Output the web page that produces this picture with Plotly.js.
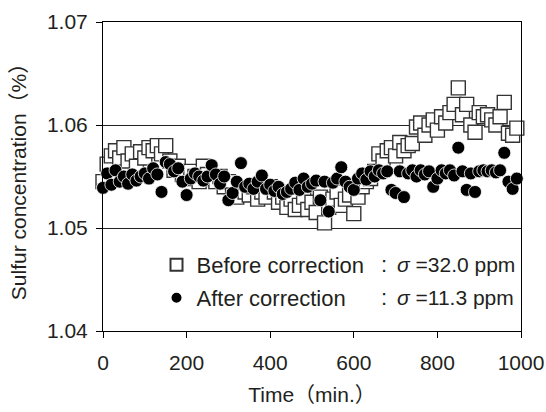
<!DOCTYPE html>
<html>
<head>
<meta charset="utf-8">
<script src="https://cdn.plot.ly/plotly-3.0.1.min.js"></script>
<style>html,body{margin:0;padding:0;background:#fff;}#chart{width:546px;height:412px;}</style>
</head>
<body>
<div id="chart"></div>
<script>
const time = [0,10,20,30,40,50,60,70,80,90,100,110,120,130,140,150,160,170,180,190,200,210,220,230,240,250,260,270,280,290,300,310,320,330,340,350,360,370,380,390,400,410,420,430,440,450,460,470,480,490,500,510,520,530,540,550,560,570,580,590,600,610,620,630,640,650,660,670,680,690,700,710,720,730,740,750,760,770,780,790,800,810,820,830,840,850,860,870,880,890,900,910,920,930,940,950,960,970,980,990];

const beforeCorrection = [1.0545,1.0562,1.0570,1.0575,1.0568,1.0578,1.0565,1.0572,1.0560,1.0574,1.0568,1.0578,1.0575,1.0580,1.0572,1.0580,1.0565,1.0556,1.0560,1.0552,1.0548,1.0555,1.0550,1.0545,1.0560,1.0552,1.0548,1.0545,1.0550,1.0540,1.0545,1.0532,1.0530,1.0538,1.0535,1.0532,1.0540,1.0528,1.0535,1.0530,1.0540,1.0535,1.0525,1.0530,1.0520,1.0528,1.0518,1.0522,1.0530,1.0518,1.0525,1.0515,1.0530,1.0505,1.0520,1.0528,1.0535,1.0522,1.0528,1.0532,1.0514,1.0530,1.0540,1.0545,1.0548,1.0555,1.0572,1.0565,1.0575,1.0578,1.0570,1.0583,1.0575,1.0580,1.0582,1.0598,1.0602,1.0590,1.0600,1.0605,1.0595,1.0608,1.0602,1.0612,1.0620,1.0636,1.0610,1.0620,1.0600,1.0593,1.0612,1.0608,1.0610,1.0605,1.0600,1.0608,1.0622,1.0592,1.0590,1.0597];

const afterCorrection = [1.0539,1.0553,1.0542,1.0556,1.0545,1.0550,1.0543,1.0552,1.0546,1.0550,1.0553,1.0548,1.0558,1.0552,1.0535,1.0564,1.0562,1.0555,1.0558,1.0545,1.0532,1.0548,1.0553,1.0550,1.0546,1.0550,1.0561,1.0552,1.0543,1.0550,1.0527,1.0534,1.0545,1.0563,1.0540,1.0543,1.0538,1.0545,1.0551,1.0538,1.0542,1.0536,1.0540,1.0533,1.0535,1.0538,1.0544,1.0537,1.0548,1.0540,1.0543,1.0546,1.0527,1.0545,1.0516,1.0544,1.0548,1.0559,1.0545,1.0540,1.0537,1.0548,1.0553,1.0547,1.0555,1.0550,1.0556,1.0553,1.0555,1.0537,1.0534,1.0555,1.0530,1.0553,1.0556,1.0550,1.0556,1.0552,1.0555,1.0540,1.0548,1.0556,1.0553,1.0556,1.0551,1.0578,1.0555,1.0537,1.0553,1.0535,1.0555,1.0556,1.0555,1.0556,1.0554,1.0556,1.0573,1.0545,1.0538,1.0548];

const seriesNames = ["Before correction", "After correction"];
const sigmaLabels = ["<i>σ</i> =32.0 ppm", "<i>σ</i> =11.3 ppm"];
const xTicks = [0,200,400,600,800,1000];
const yTicks = [1.04,1.05,1.06,1.07];
const yTickText = ["1.04","1.05","1.06","1.07"];

const FONT = "Liberation Sans, Arial, Noto Sans CJK JP, sans-serif";
const ink = "#231f20";

const traces = [
  {x: time, y: beforeCorrection, name: seriesNames[0], type: "scatter", mode: "markers",
   marker: {symbol: "square", size: 14, color: "#ffffff", line: {color: "#333333", width: 1.4}},
   legend: "legend", cliponaxis: false},
  {x: time, y: afterCorrection, name: seriesNames[1], type: "scatter", mode: "markers",
   marker: {symbol: "circle", size: 13, color: "#000000", line: {color: "#ffffff", width: 0.8}},
   legend: "legend2", cliponaxis: false}
];

const legendCommon = {
  xref: "paper", yref: "paper", xanchor: "left", yanchor: "middle",
  bgcolor: "rgba(0,0,0,0)", borderwidth: 0, itemsizing: "constant",
  font: {family: FONT, size: 22, color: ink}
};

const layout = {
  width: 546, height: 412,
  margin: {l: 103, r: 25, t: 22, b: 81, pad: 0},
  paper_bgcolor: "#ffffff", plot_bgcolor: "#ffffff",
  font: {family: FONT, size: 21, color: ink},
  showlegend: true,
  legend: Object.assign({}, legendCommon, {x: 0.128, y: 0.2136}),
  legend2: Object.assign({}, legendCommon, {x: 0.128, y: 0.1068}),
  xaxis: {
    range: [0, 1000], tickvals: xTicks, ticktext: xTicks.map(String),
    ticks: "outside", ticklen: 6, tickwidth: 1, tickcolor: "#000",
    showline: true, linecolor: "#000", linewidth: 1, mirror: true,
    showgrid: false, zeroline: false,
    ticklabelstandoff: 7,
    tickfont: {family: FONT, size: 21, color: ink},
    title: {text: "Time（min.）", font: {family: FONT, size: 21, color: ink}, standoff: 14}
  },
  yaxis: {
    range: [1.04, 1.07], tickvals: yTicks, ticktext: yTickText,
    ticks: "outside", ticklen: 6, tickwidth: 1, tickcolor: "#000",
    showline: true, linecolor: "#000", linewidth: 1, mirror: true,
    showgrid: true, gridcolor: "#222", gridwidth: 1, zeroline: false,
    ticklabelstandoff: 4,
    tickfont: {family: FONT, size: 21, color: ink},
    title: {text: "Sulfur concentration（%）", font: {family: FONT, size: 21, color: ink}, standoff: 14}
  },
  annotations: [
    {xref: "paper", yref: "paper", x: (384-103)/418, y: 0.2136, xanchor: "center", yanchor: "middle", text: ":", showarrow: false, font: {family: FONT, size: 22, color: ink}},
    {xref: "paper", yref: "paper", x: (395-103)/418, y: 0.2136, xanchor: "left", yanchor: "middle", text: sigmaLabels[0], showarrow: false, font: {family: FONT, size: 21, color: ink}},
    {xref: "paper", yref: "paper", x: (384-103)/418, y: 0.1068, xanchor: "center", yanchor: "middle", text: ":", showarrow: false, font: {family: FONT, size: 22, color: ink}},
    {xref: "paper", yref: "paper", x: (395-103)/418, y: 0.1068, xanchor: "left", yanchor: "middle", text: sigmaLabels[1], showarrow: false, font: {family: FONT, size: 21, color: ink}}
  ]
};

Plotly.newPlot("chart", traces, layout, {displayModeBar: false, staticPlot: true});
</script>
</body>
</html>
